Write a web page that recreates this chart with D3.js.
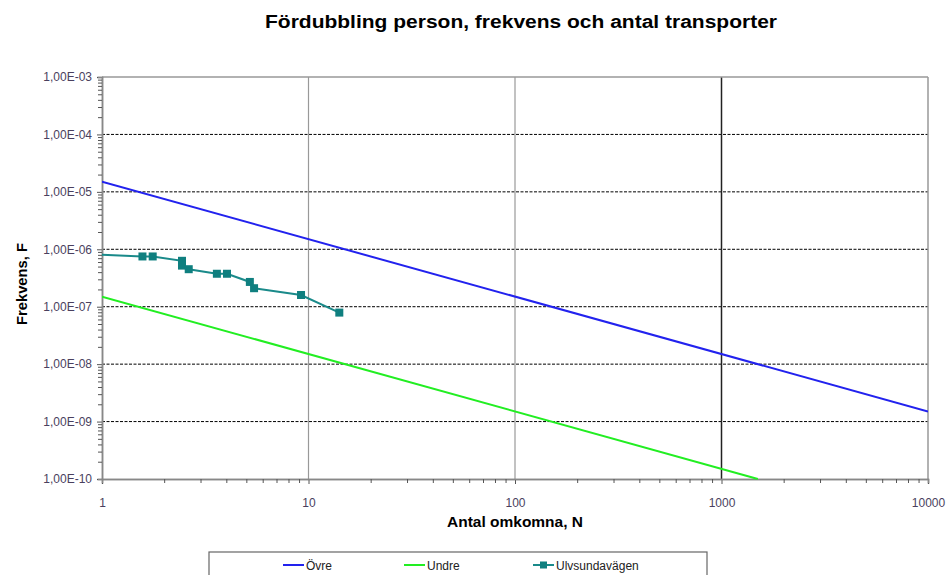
<!DOCTYPE html>
<html>
<head>
<meta charset="utf-8">
<script src="https://cdn.jsdelivr.net/npm/d3@7"></script>
<style>
  body { margin: 0; background: #fff; }
  text { font-family: "Liberation Sans", Arial, sans-serif; }
</style>
</head>
<body>
<div id="chart"></div>
<script>
// data
var seriesNames = ["Övre", "Undre", "Ulvsundavägen"];
var ovreN = [1, 10000];
var ovreF = [1.5e-5, 1.5e-9];
var undreN = [1, 1500];
var undreF = [1.5e-7, 1.0e-10];
var ulvN = [1, 1.57, 1.76, 2.44, 2.44, 2.63, 3.6, 4.03, 5.2, 5.45, 9.2, 14.1];
var ulvF = [8.0e-7, 7.5e-7, 7.5e-7, 6.3e-7, 5.2e-7, 4.5e-7, 3.75e-7, 3.75e-7, 2.7e-7, 2.1e-7, 1.6e-7, 7.9e-8];
var yTicks = [1e-10, 1e-9, 1e-8, 1e-7, 1e-6, 1e-5, 1e-4, 1e-3];
var xTicks = [1, 10, 100, 1000, 10000];

// layout
var W = 947, H = 575;
var margin = {top: 77, right: 19, bottom: 96, left: 102},
    width = W - margin.left - margin.right,
    height = H - margin.top - margin.bottom;

var svg = d3.select("#chart")
  .append("svg")
    .attr("width", W)
    .attr("height", H);

var g = svg.append("g")
    .attr("transform", "translate(" + margin.left + "," + margin.top + ")");

var x = d3.scaleLog().domain([1, 10000]).range([0, width]);
var y = d3.scaleLog().domain([1e-10, 1e-3]).range([height, 0]);

// minor tick positions
var xMinor = [], yMinor = [];
xTicks.slice(0, -1).forEach(function(t) {
  for (var k = 2; k <= 9; k++) xMinor.push(t * k);
});
yTicks.slice(0, -1).forEach(function(t) {
  for (var k = 2; k <= 9; k++) yMinor.push(t * k);
});

// horizontal dashed grid
g.selectAll(".hgrid")
  .data(yTicks.slice(1, -1))
  .enter().append("line")
    .attr("x1", 0).attr("x2", width)
    .attr("y1", function(d) { return y(d); })
    .attr("y2", function(d) { return y(d); })
    .attr("stroke", "#000")
    .attr("stroke-width", 1)
    .attr("stroke-dasharray", "3,1.5");

// vertical grid
g.selectAll(".vgrid")
  .data(xTicks.slice(1, -1))
  .enter().append("line")
    .attr("x1", function(d) { return x(d); })
    .attr("x2", function(d) { return x(d); })
    .attr("y1", 0).attr("y2", height)
    .attr("stroke", function(d) { return d === 1000 ? "#222" : "#999"; })
    .attr("stroke-width", function(d) { return d === 1000 ? 1.5 : 1.2; });

// plot border top/right
g.append("line").attr("x1", 0).attr("x2", width).attr("y1", 0).attr("y2", 0)
  .attr("stroke", "#999").attr("stroke-width", 1.5);
g.append("line").attr("x1", width).attr("x2", width).attr("y1", 0).attr("y2", height)
  .attr("stroke", "#999").attr("stroke-width", 1.5);

// axes
var fmtY = function(d) {
  var e = Math.round(Math.log10(d));
  var s = Math.abs(e) < 10 ? "0" + Math.abs(e) : "" + Math.abs(e);
  return "1,00E-" + s;
};

var yAxis = g.append("g")
  .call(d3.axisLeft(y).tickValues(yTicks).tickFormat(fmtY).tickSize(5).tickPadding(5));
var yMin = g.append("g")
  .call(d3.axisLeft(y).tickValues(yMinor).tickFormat("").tickSize(4));
var xAxis = g.append("g")
  .attr("transform", "translate(0," + height + ")")
  .call(d3.axisBottom(x).tickValues(xTicks).tickFormat(d3.format("d")).tickSize(5).tickPadding(14));
var xMin = g.append("g")
  .attr("transform", "translate(0," + height + ")")
  .call(d3.axisBottom(x).tickValues(xMinor).tickFormat("").tickSize(4));

[yAxis, yMin, xAxis, xMin].forEach(function(a) {
  a.select(".domain").attr("stroke", "#888").attr("stroke-width", 1.5);
  a.selectAll(".tick line").attr("stroke", "#555");
  a.selectAll("text").attr("font-size", 12).attr("fill", "#4a3f5e")
    .style("font-family", "'Liberation Sans', Arial, sans-serif");
});

// clip
svg.append("clipPath").attr("id", "clip")
  .append("rect").attr("x", 0).attr("y", 0).attr("width", width).attr("height", height + 2);

var line = d3.line()
  .x(function(d) { return x(d[0]); })
  .y(function(d) { return y(d[1]); });

var plot = g.append("g").attr("clip-path", "url(#clip)");

plot.append("path")
  .attr("d", line(d3.zip(ovreN, ovreF)))
  .attr("fill", "none").attr("stroke", "#2222ee").attr("stroke-width", 2);

plot.append("path")
  .attr("d", line(d3.zip(undreN, undreF)))
  .attr("fill", "none").attr("stroke", "#22ee22").attr("stroke-width", 2);

var ulv = d3.zip(ulvN, ulvF);
plot.append("path")
  .attr("d", line(ulv))
  .attr("fill", "none").attr("stroke", "#1a8a8a").attr("stroke-width", 2);

plot.selectAll(".mk")
  .data(ulv.slice(1))
  .enter().append("rect")
    .attr("x", function(d) { return x(d[0]) - 4; })
    .attr("y", function(d) { return y(d[1]) - 4; })
    .attr("width", 8).attr("height", 8)
    .attr("fill", "#0f7f7f");

// title & labels
svg.append("text")
  .attr("x", 521).attr("y", 28)
  .attr("text-anchor", "middle")
  .attr("font-size", 18).attr("font-weight", "bold")
  .attr("textLength", 512).attr("lengthAdjust", "spacingAndGlyphs")
  .text("Fördubbling person, frekvens och antal transporter");

svg.append("text")
  .attr("x", margin.left + width / 2).attr("y", 527)
  .attr("text-anchor", "middle")
  .attr("font-size", 14).attr("font-weight", "bold")
  .attr("textLength", 136).attr("lengthAdjust", "spacingAndGlyphs")
  .text("Antal omkomna, N");

svg.append("text")
  .attr("transform", "translate(27," + (margin.top + height / 2 + 6) + ") rotate(-90)")
  .attr("text-anchor", "middle")
  .attr("font-size", 14).attr("font-weight", "bold")
  .attr("textLength", 82).attr("lengthAdjust", "spacingAndGlyphs")
  .text("Frekvens, F");

// legend
var lg = svg.append("g");
lg.append("rect")
  .attr("x", 209).attr("y", 552).attr("width", 498).attr("height", 40)
  .attr("fill", "#fff").attr("stroke", "#666").attr("stroke-width", 1.2);

var legColors = ["#2222ee", "#22ee22", "#1a8a8a"];
var legX = [283, 404, 533];
seriesNames.forEach(function(name, i) {
  var it = lg.append("g").attr("transform", "translate(" + legX[i] + ",565)");
  it.append("line").attr("x1", 0).attr("x2", 21).attr("y1", 0).attr("y2", 0)
    .attr("stroke", legColors[i]).attr("stroke-width", 2);
  if (i === 2) {
    it.append("rect").attr("x", 7).attr("y", -3.5).attr("width", 7).attr("height", 7)
      .attr("fill", "#0f7f7f");
  }
  it.append("text").attr("x", 23).attr("y", 4.5)
    .attr("font-size", 12).attr("fill", "#222")
    .text(name);
});
</script>
</body>
</html>
